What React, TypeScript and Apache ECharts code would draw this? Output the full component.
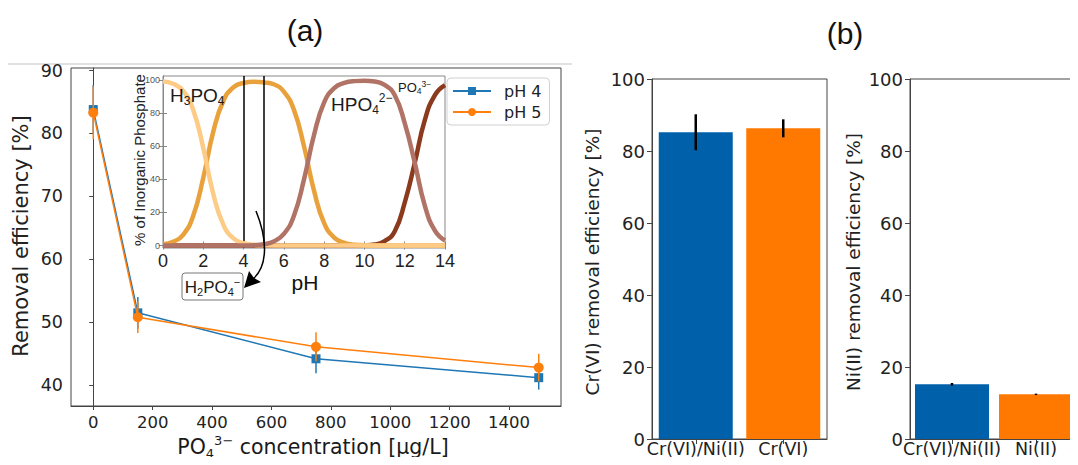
import React, { useEffect, useRef } from "react";
import * as echarts from "echarts";

// ---- panel (a): removal efficiency vs phosphate concentration ----
const concentrations = [0, 150, 750, 1500];
const pH4Eff = [83.8, 51.5, 44.2, 41.2];
const pH4Err = [3.9, 2.5, 2.3, 1.9];
const pH5Eff = [83.3, 50.8, 46.1, 42.8];
const pH5Err = [4.2, 2.5, 2.3, 2.2];
const mainXTicks = [0, 200, 400, 600, 800, 1000, 1200, 1400];
const mainYTicks = [40, 50, 60, 70, 80, 90];

// ---- inset: phosphate speciation ----
const pHValues = [0, 0.5, 1, 1.5, 2, 2.5, 3, 3.5, 4, 4.5, 5, 5.5, 6, 6.5, 7, 7.5, 8, 8.5, 9, 9.5, 10, 10.5, 11, 11.5, 12, 12.5, 13, 13.5, 14];
const h3po4 = [99.2, 97.8, 93.5, 82, 59, 31, 12.5, 4.3, 1.4, 0.4, 0.1, 0, 0, 0, 0, 0, 0, 0, 0, 0, 0, 0, 0, 0, 0, 0, 0, 0, 0];
const h2po4 = [0.8, 2.2, 6.5, 18, 41, 69, 87.5, 95.7, 98.3, 99, 98.6, 97.5, 93, 82, 60, 33, 13.5, 4.8, 1.6, 0.5, 0.2, 0, 0, 0, 0, 0, 0, 0, 0];
const hpo4 = [0, 0, 0, 0, 0, 0, 0, 0, 0, 0.2, 0.8, 2.5, 7, 18, 40, 67, 86.5, 95.2, 98.3, 99.4, 99.6, 99.2, 97.2, 91, 74, 50, 24, 9, 3];
const po4 = [0, 0, 0, 0, 0, 0, 0, 0, 0, 0, 0, 0, 0, 0, 0, 0, 0, 0, 0, 0, 0.1, 0.6, 2.6, 8.5, 26, 50, 76, 91, 97];
const markedPH = [4, 5];
const insetYTicks = [0, 20, 40, 60, 80, 100];

// ---- panel (b): bars ----
const crCategories = ["Cr(VI)/Ni(II)", "Cr(VI)"];
const crEff = [85.2, 86.3];
const crErr = [5.0, 2.5];
const niCategories = ["Cr(VI)/Ni(II)", "Ni(II)"];
const niEff = [15.2, 12.4];
const niErr = [0.35, 0.2];

const BLUE = "#1f77b4";
const ORANGE = "#ff7f0e";
const BAR_COLORS = ["#0061aa", "#ff7800"];
const DJ = "DejaVu Sans";
const LB = "Liberation Sans";

function rich(size: number, sub: number, family: string) {
  return {
    n: { fontSize: size, fontFamily: family, lineHeight: Math.round(size * 1.25), fill: "#1a1a1a" },
    s: { fontSize: sub, fontFamily: family, lineHeight: sub, verticalAlign: "bottom", fill: "#1a1a1a" },
    p: { fontSize: sub, fontFamily: family, lineHeight: sub, verticalAlign: "top", fill: "#1a1a1a" },
  };
}

function errSeries(xIdx: number, yIdx: number, data: number[][], color: string, width: number, z: number) {
  return {
    type: "custom",
    xAxisIndex: xIdx,
    yAxisIndex: yIdx,
    z,
    silent: true,
    data,
    renderItem: (_p: any, api: any) => {
      const x = api.value(0);
      const y = api.value(1);
      const e = api.value(2);
      const a = api.coord([x, y - e]);
      const b = api.coord([x, y + e]);
      return {
        type: "line",
        shape: { x1: a[0], y1: a[1], x2: b[0], y2: b[1] },
        style: { stroke: color, lineWidth: width },
      };
    },
  };
}

const plain = (v: number) => String(v);

export default function App() {
  const ref = useRef<HTMLDivElement>(null);
  useEffect(() => {
    if (!ref.current) return;
    const chart = echarts.init(ref.current, null, { renderer: "svg" });

    const axisText = { color: "#222", fontFamily: DJ };
    const frame = "#444";

    const insetLine = (name: string, vals: number[], color: string, z: number, extra: any = {}) => ({
      type: "line",
      name,
      xAxisIndex: 1,
      yAxisIndex: 1,
      data: pHValues.map((p, i) => [p, vals[i]]),
      smooth: 0.5,
      showSymbol: false,
      symbol: "none",
      clip: false,
      z,
      lineStyle: { color, width: 4.5 },
      ...extra,
    });

    const catLabel = { fontSize: 17.5, margin: 1, lineHeight: 17.5, ...axisText, interval: 0 };

    const option: any = {
      animation: false,
      backgroundColor: "#fff",
      grid: [
        { left: 71, top: 68, width: 490, height: 338, show: true, borderColor: frame, borderWidth: 1 },
        { left: 163, top: 76, width: 282, height: 172, show: true, borderColor: "#888", borderWidth: 1, backgroundColor: "#fff" },
        { left: 652, top: 79, width: 175, height: 360, show: true, borderColor: frame, borderWidth: 1 },
        { left: 910, top: 79, width: 175, height: 360, show: true, borderColor: frame, borderWidth: 1 },
      ],
      legend: {
        data: ["pH 4", "pH 5"],
        orient: "vertical",
        left: 447,
        top: 78,
        itemWidth: 38,
        itemHeight: 10,
        itemGap: 5,
        padding: [5, 8, 5, 5],
        borderColor: "#d0d0d0",
        borderWidth: 1,
        borderRadius: 4,
        backgroundColor: "#fff",
        textStyle: { fontSize: 16, fontFamily: DJ, color: "#222", padding: [0, 0, 0, 8] },
      },
      xAxis: [
        {
          gridIndex: 0, type: "value", min: -75, max: 1575,
          axisLine: { show: true, lineStyle: { color: frame } },
          axisTick: { show: true, customValues: mainXTicks, length: 4, lineStyle: { color: frame } },
          axisLabel: { customValues: mainXTicks, formatter: plain, fontSize: 16.5, margin: 8, ...axisText },
          splitLine: { show: false },
        },
        {
          gridIndex: 1, type: "value", min: 0, max: 14, interval: 2,
          axisLine: { show: true, lineStyle: { color: "#888" } },
          axisTick: { show: true, inside: true, length: 4, lineStyle: { color: "#888" } },
          minorTick: { show: true, splitNumber: 4, length: 2, lineStyle: { color: "#999" } },
          axisLabel: { fontSize: 18, margin: 4, color: "#222", fontFamily: LB },
          splitLine: { show: false },
        },
        {
          gridIndex: 1, type: "value", min: 0, max: 14, interval: 2, position: "top",
          axisLine: { show: true, lineStyle: { color: "#888" } },
          axisTick: { show: true, inside: true, length: 4, lineStyle: { color: "#888" } },
          minorTick: { show: true, splitNumber: 4, length: 2, lineStyle: { color: "#999" } },
          axisLabel: { show: false },
          splitLine: { show: false },
        },
        {
          gridIndex: 2, type: "category", data: crCategories,
          axisLine: { show: true, lineStyle: { color: frame } },
          axisTick: { show: true, alignWithLabel: true, length: 5, lineStyle: { color: frame } },
          axisLabel: catLabel,
        },
        {
          gridIndex: 3, type: "category", data: niCategories,
          axisLine: { show: true, lineStyle: { color: frame } },
          axisTick: { show: true, alignWithLabel: true, length: 5, lineStyle: { color: frame } },
          axisLabel: catLabel,
        },
      ],
      yAxis: [
        {
          gridIndex: 0, type: "value", min: 36.7, max: 90.4,
          axisLine: { show: true, lineStyle: { color: frame } },
          axisTick: { show: true, customValues: mainYTicks, length: 4, lineStyle: { color: frame } },
          axisLabel: { customValues: mainYTicks, formatter: plain, fontSize: 17.5, margin: 8, ...axisText },
          splitLine: { show: false },
        },
        {
          gridIndex: 1, type: "value", min: -1.5, max: 102.5,
          axisLine: { show: true, lineStyle: { color: "#888" } },
          axisTick: { show: true, inside: true, customValues: insetYTicks, length: 4, lineStyle: { color: "#888" } },
          axisLabel: { customValues: insetYTicks, formatter: plain, fontSize: 9, margin: 3, color: "#555", fontFamily: LB },
          splitLine: { show: false },
        },
        {
          gridIndex: 1, type: "value", min: -1.5, max: 102.5, position: "right",
          axisLine: { show: true, lineStyle: { color: "#888" } },
          axisTick: { show: true, inside: true, customValues: insetYTicks, length: 4, lineStyle: { color: "#888" } },
          axisLabel: { show: false },
          splitLine: { show: false },
        },
        {
          gridIndex: 2, type: "value", min: 0, max: 100, interval: 20,
          axisLine: { show: true, lineStyle: { color: frame } },
          axisTick: { show: true, length: 5, lineStyle: { color: frame } },
          axisLabel: { fontSize: 18, margin: 7, ...axisText },
          splitLine: { show: false },
        },
        {
          gridIndex: 3, type: "value", min: 0, max: 100, interval: 20,
          axisLine: { show: true, lineStyle: { color: frame } },
          axisTick: { show: true, length: 5, lineStyle: { color: frame } },
          axisLabel: { fontSize: 18, margin: 7, ...axisText },
          splitLine: { show: false },
        },
      ],
      series: [
        errSeries(0, 0, concentrations.map((c, i) => [c, pH4Eff[i], pH4Err[i]]), BLUE, 1.5, 1),
        {
          type: "line", name: "pH 4", xAxisIndex: 0, yAxisIndex: 0, z: 2,
          data: concentrations.map((c, i) => [c, pH4Eff[i]]),
          symbol: "rect", symbolSize: 9,
          lineStyle: { color: BLUE, width: 1.5 }, itemStyle: { color: BLUE },
        },
        errSeries(0, 0, concentrations.map((c, i) => [c, pH5Eff[i], pH5Err[i]]), ORANGE, 1.5, 3),
        {
          type: "line", name: "pH 5", xAxisIndex: 0, yAxisIndex: 0, z: 4,
          data: concentrations.map((c, i) => [c, pH5Eff[i]]),
          symbol: "circle", symbolSize: 10,
          lineStyle: { color: ORANGE, width: 1.5 }, itemStyle: { color: ORANGE },
        },
        insetLine("PO4", po4, "#8c3a1e", 3),
        insetLine("H2PO4", h2po4, "#e9a23b", 4),
        insetLine("H3PO4", h3po4, "#fdcb85", 5),
        insetLine("HPO4", hpo4, "#b07366", 6, {
          markLine: {
            symbol: "none", silent: true, label: { show: false },
            lineStyle: { color: "#000", width: 1.5, type: "solid" },
            data: markedPH.map((v) => ({ xAxis: v })),
          },
        }),
        {
          type: "bar", xAxisIndex: 3, yAxisIndex: 3, barWidth: 74, z: 2,
          data: crEff.map((v, i) => ({ value: v, itemStyle: { color: BAR_COLORS[i] } })),
        },
        errSeries(3, 3, crEff.map((v, i) => [i, v, crErr[i]]), "#000", 2.5, 5),
        {
          type: "bar", xAxisIndex: 4, yAxisIndex: 4, barWidth: 74, z: 2,
          data: niEff.map((v, i) => ({ value: v, itemStyle: { color: BAR_COLORS[i] } })),
        },
        errSeries(4, 4, niEff.map((v, i) => [i, v, niErr[i]]), "#000", 2.5, 5),
      ],
      graphic: [
        { type: "line", shape: { x1: 0, y1: 64, x2: 572, y2: 64 }, style: { stroke: "#c4c4c4", lineWidth: 1.2 }, silent: true },
        { type: "text", x: 305, y: 30, style: { text: "(a)", fontSize: 30, fontFamily: LB, fill: "#111", align: "center", verticalAlign: "middle" } },
        { type: "text", x: 845, y: 33, style: { text: "(b)", fontSize: 30, fontFamily: LB, fill: "#111", align: "center", verticalAlign: "middle" } },
        { type: "text", x: 21, y: 236, rotation: Math.PI / 2, style: { text: "Removal efficiency [%]", fontSize: 21, fontFamily: DJ, fill: "#222", align: "center", verticalAlign: "middle" } },
        {
          type: "text", x: 313, y: 447,
          style: { text: "{n|PO}{s|4}{p|3−}{n| concentration [μg/L]}", rich: rich(20.5, 13, DJ), align: "center", verticalAlign: "middle" },
        },
        { type: "text", x: 592, y: 262, rotation: Math.PI / 2, style: { text: "Cr(VI) removal efficiency [%]", fontSize: 18.5, fontFamily: DJ, fill: "#222", align: "center", verticalAlign: "middle" } },
        { type: "text", x: 853, y: 262, rotation: Math.PI / 2, style: { text: "Ni(II) removal efficiency [%]", fontSize: 18.5, fontFamily: DJ, fill: "#222", align: "center", verticalAlign: "middle" } },
        // inset annotations
        { type: "text", x: 139, y: 160, rotation: Math.PI / 2, z: 10, style: { text: "% of Inorganic Phosphate", fontSize: 15, fontFamily: LB, fill: "#222", align: "center", verticalAlign: "middle" } },
        { type: "text", x: 305, y: 282, z: 10, style: { text: "pH", fontSize: 21, fontFamily: LB, fill: "#111", align: "center", verticalAlign: "middle" } },
        { type: "text", x: 170, y: 95, z: 10, style: { text: "{n|H}{s|3}{n|PO}{s|4}", rich: rich(19, 12, LB), align: "left", verticalAlign: "middle" } },
        { type: "text", x: 331, y: 104, z: 10, style: { text: "{n|HPO}{s|4}{p|2−}", rich: rich(19, 12, LB), align: "left", verticalAlign: "middle" } },
        { type: "text", x: 398, y: 87, z: 10, style: { text: "{n|PO}{s|4}{p|3−}", rich: rich(13, 8.5, LB), align: "left", verticalAlign: "middle" } },
        { type: "rect", z: 10, shape: { x: 182, y: 273, width: 61, height: 27, r: 3 }, style: { fill: "#fff", stroke: "#777", lineWidth: 1 } },
        { type: "text", x: 212.5, y: 287, z: 11, style: { text: "{n|H}{s|2}{n|PO}{s|4}{p|−}", rich: rich(17, 11, LB), align: "center", verticalAlign: "middle" } },
        {
          type: "bezierCurve", z: 10,
          shape: { x1: 256, y1: 211, cpx1: 267, cpy1: 238, cpx2: 269, cpy2: 266, x2: 252, y2: 280 },
          style: { stroke: "#000", lineWidth: 1.5, fill: null },
        },
        { type: "polygon", z: 10, shape: { points: [[244, 288], [249, 271], [254, 278], [261, 282]] }, style: { fill: "#000" } },
      ],
    };

    chart.setOption(option);
    return () => chart.dispose();
  }, []);

  return <div ref={ref} style={{ width: 1078, height: 465, margin: -8 }} />;
}
